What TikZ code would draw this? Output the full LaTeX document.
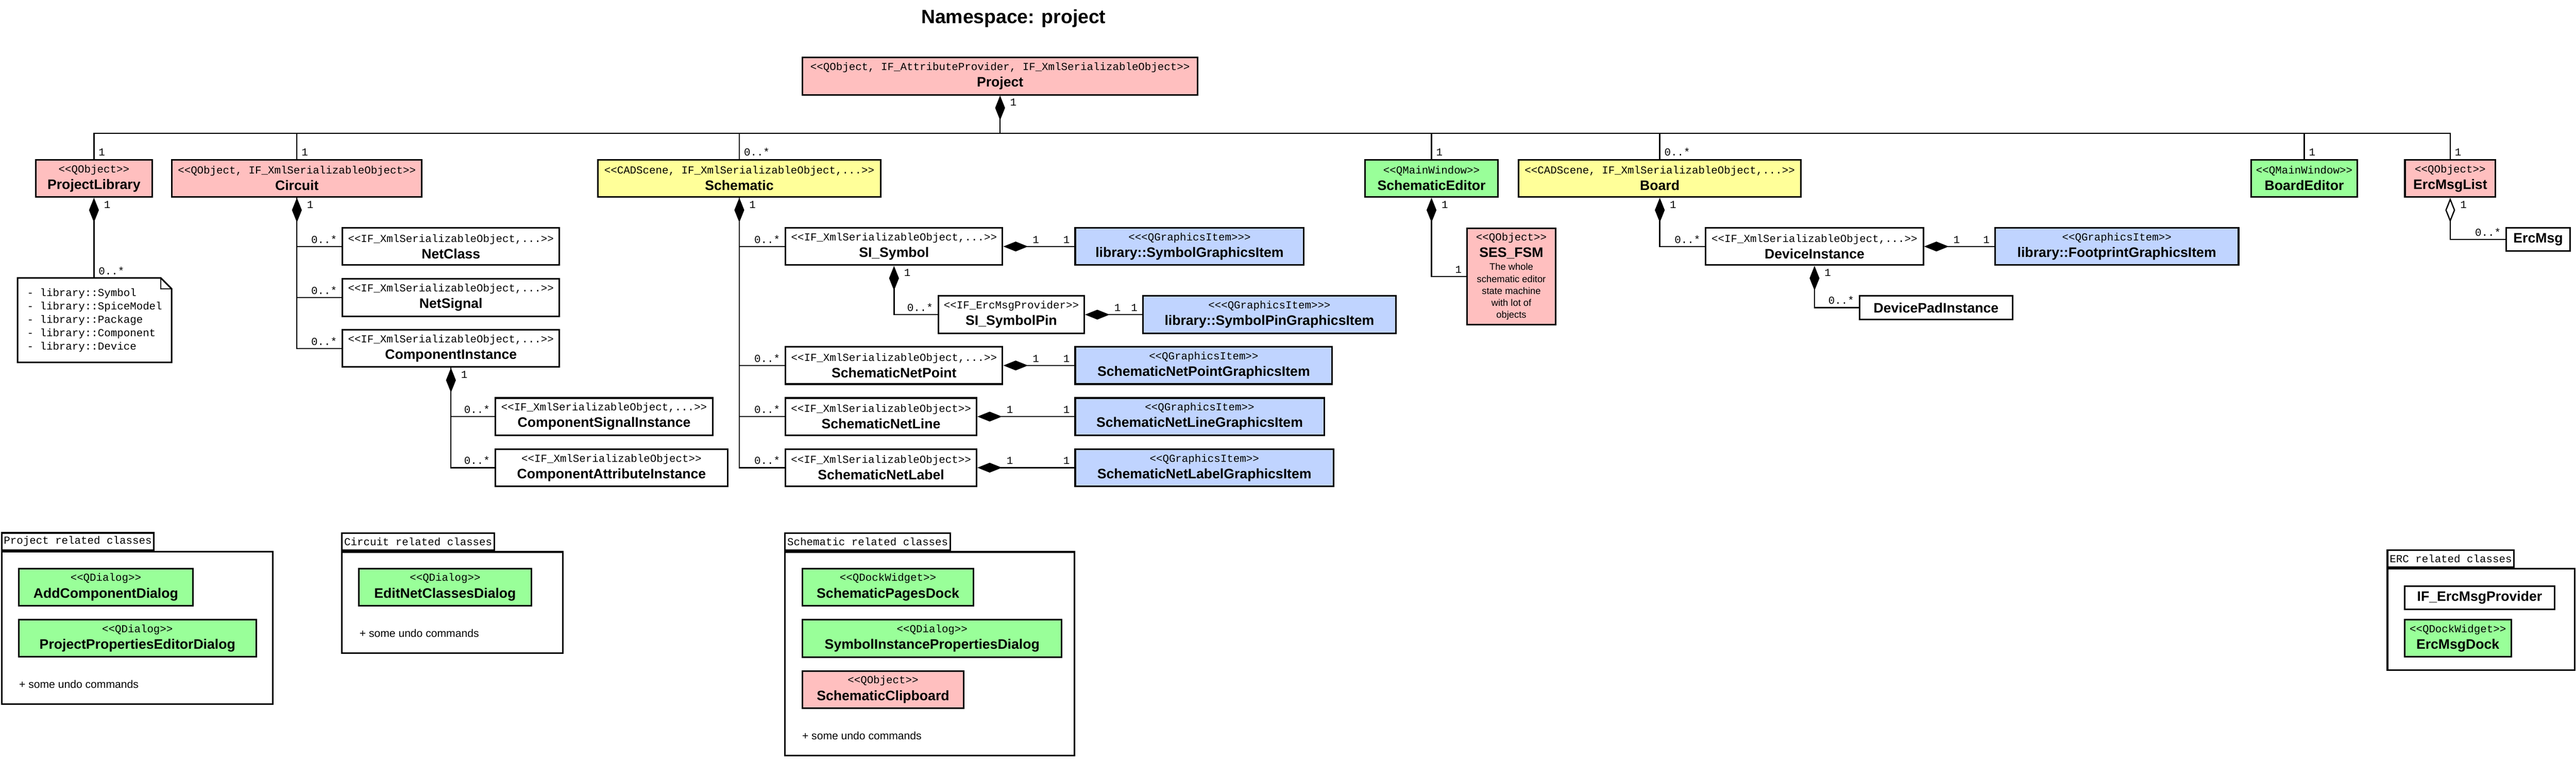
\documentclass[tikz,border=0pt]{standalone}
\usepackage{fontspec}
\setmainfont{Liberation Sans}
\newfontfamily\monofont{Liberation Mono}
\usetikzlibrary{arrows.meta,positioning}
\definecolor{clspink}{HTML}{FFBFBF}
\definecolor{clsyellow}{HTML}{FFFF99}
\definecolor{clsgreen}{HTML}{99FF99}
\definecolor{clsblue}{HTML}{C0D4FF}
\newcommand{\stereo}[1]{{\monofont\mdseries\fontsize{6.8}{8}\selectfont #1}}
\newcommand{\descfont}{\mdseries\fontsize{6}{7.6}\selectfont}
\begin{document}
\begin{tikzpicture}[cls/.style={draw,line width=1pt,align=center,inner sep=0pt,minimum height=0.83cm,font=\fontsize{8.7}{10.5}\selectfont\bfseries},
  pinkcls/.style={cls,fill=clspink},yellowcls/.style={cls,fill=clsyellow},greencls/.style={cls,fill=clsgreen},bluecls/.style={cls,fill=clsblue},whitecls/.style={cls,fill=white},
  onecls/.style={cls,fill=white,minimum height=0.52cm},
  comp/.style={{Diamond[length=5.5mm,width=2.2mm]}-,line width=0.8pt},
  aggr/.style={{Diamond[open,length=5.5mm,width=2.2mm]}-,line width=0.8pt},
  assoc/.style={line width=0.8pt},
  mult/.style={font=\monofont\fontsize{6.8}{8}\selectfont,inner xsep=0.09cm,inner ysep=0.06cm},
  notebox/.style={align=left,inner sep=0pt,font=\monofont\fontsize{6.8}{8.5}\selectfont},
  pkg/.style={draw,line width=1pt},
  pkgtab/.style={draw,line width=1pt,fill=white,font=\monofont\fontsize{6.8}{8}\selectfont,inner xsep=0.05cm,inner ysep=0pt,minimum height=0.38cm},
  undo/.style={font=\fontsize{6.9}{8}\selectfont,anchor=west,inner sep=0pt}]
\useasboundingbox (0,0) rectangle (57.44,-17);
\node[font=\fontsize{12.2}{14}\selectfont\bfseries] (Title) at (22.6,-0.415) {Namespace: project};
\node[pinkcls,minimum width=8.81cm] (Proj) at (22.30,-1.70) {\stereo{<<QObject, IF\_AttributeProvider, IF\_XmlSerializableObject>>}\\Project};
\node[pinkcls,minimum width=2.60cm] (PL) at (2.095,-3.98) {\stereo{<<QObject>>}\\ProjectLibrary};
\node[pinkcls,minimum width=5.57cm] (Circ) at (6.62,-3.98) {\stereo{<<QObject, IF\_XmlSerializableObject>>}\\Circuit};
\node[yellowcls,minimum width=6.30cm] (Schem) at (16.485,-3.98) {\stereo{<<CADScene, IF\_XmlSerializableObject,...>>}\\Schematic};
\node[greencls,minimum width=2.97cm] (SchEd) at (31.92,-3.98) {\stereo{<<QMainWindow>>}\\SchematicEditor};
\node[yellowcls,minimum width=6.29cm] (Board) at (37.01,-3.98) {\stereo{<<CADScene, IF\_XmlSerializableObject,...>>}\\Board};
\node[greencls,minimum width=2.37cm] (BoardEd) at (51.38,-3.98) {\stereo{<<QMainWindow>>}\\BoardEditor};
\node[pinkcls,minimum width=2.02cm] (ErcList) at (54.635,-3.98) {\stereo{<<QObject>>}\\ErcMsgList};
\node[notebox,minimum width=3.42cm,minimum height=1.87cm] (Note) at (2.11,-7.145) {- library::Symbol\\- library::SpiceModel\\- library::Package\\- library::Component\\- library::Device};
\draw[line width=1pt] (Note.north west) -- ([xshift=-0.24cm]Note.north east) -- ([yshift=-0.24cm]Note.north east) -- (Note.south east) -- (Note.south west) -- cycle;
\draw[line width=0.8pt] ([xshift=-0.24cm]Note.north east) |- ([yshift=-0.24cm]Note.north east);
\node[whitecls,minimum width=4.84cm] (NetClass) at (10.055,-5.50) {\stereo{<<IF\_XmlSerializableObject,...>>}\\NetClass};
\node[whitecls,minimum width=4.84cm] (NetSig) at (10.055,-6.64) {\stereo{<<IF\_XmlSerializableObject,...>>}\\NetSignal};
\node[whitecls,minimum width=4.84cm] (CompInst) at (10.055,-7.775) {\stereo{<<IF\_XmlSerializableObject,...>>}\\ComponentInstance};
\node[whitecls,minimum width=4.85cm] (CompSig) at (13.47,-9.295) {\stereo{<<IF\_XmlSerializableObject,...>>}\\ComponentSignalInstance};
\node[whitecls,minimum width=5.18cm] (CompAttr) at (13.635,-10.435) {\stereo{<<IF\_XmlSerializableObject>>}\\ComponentAttributeInstance};
\node[whitecls,minimum width=4.84cm] (SISym) at (19.935,-5.50) {\stereo{<<IF\_XmlSerializableObject,...>>}\\SI\_Symbol};
\node[bluecls,minimum width=5.10cm] (SymGI) at (26.525,-5.50) {\stereo{<<<QGraphicsItem>>>}\\library::SymbolGraphicsItem};
\node[whitecls,minimum width=3.25cm] (SIPin) at (22.55,-7.02) {\stereo{<<IF\_ErcMsgProvider>>}\\SI\_SymbolPin};
\node[bluecls,minimum width=5.64cm] (PinGI) at (28.305,-7.02) {\stereo{<<<QGraphicsItem>>>}\\library::SymbolPinGraphicsItem};
\node[whitecls,minimum width=4.84cm] (NetPt) at (19.935,-8.155) {\stereo{<<IF\_XmlSerializableObject,...>>}\\SchematicNetPoint};
\node[bluecls,minimum width=5.73cm] (NetPtGI) at (26.84,-8.155) {\stereo{<<QGraphicsItem>>}\\SchematicNetPointGraphicsItem};
\node[whitecls,minimum width=4.26cm] (NetLine) at (19.645,-9.295) {\stereo{<<IF\_XmlSerializableObject>>}\\SchematicNetLine};
\node[bluecls,minimum width=5.55cm] (NetLineGI) at (26.75,-9.295) {\stereo{<<QGraphicsItem>>}\\SchematicNetLineGraphicsItem};
\node[whitecls,minimum width=4.26cm] (NetLabel) at (19.645,-10.435) {\stereo{<<IF\_XmlSerializableObject>>}\\SchematicNetLabel};
\node[bluecls,minimum width=5.76cm] (NetLabelGI) at (26.855,-10.435) {\stereo{<<QGraphicsItem>>}\\SchematicNetLabelGraphicsItem};
\node[pinkcls,minimum width=1.97cm,minimum height=2.15cm] (SesFsm) at (33.70,-6.17) {\stereo{<<QObject>>}\\SES\_FSM\\[-2.3pt]{\descfont The whole}\\[-2.9pt]{\descfont schematic editor}\\[-2.9pt]{\descfont state machine}\\[-2.9pt]{\descfont with lot of}\\[-2.9pt]{\descfont objects}};
\node[whitecls,minimum width=4.85cm] (DevInst) at (40.46,-5.50) {\stereo{<<IF\_XmlSerializableObject,...>>}\\DeviceInstance};
\node[bluecls,minimum width=5.43cm] (Foot) at (47.20,-5.50) {\stereo{<<QGraphicsItem>>}\\library::FootprintGraphicsItem};
\node[onecls,minimum width=3.41cm] (DevPad) at (43.17,-6.865) {DevicePadInstance};
\node[onecls,minimum width=1.42cm] (ErcMsg) at (56.595,-5.34) {ErcMsg};
% composition from the project
\coordinate (Bus) at ([yshift=-0.84cm]Proj.south);
\draw[comp] (Proj.south) -- (Bus) node[mult,at start,anchor=north west,xshift=1.2mm]{1};
\draw[assoc] (Bus) -| (PL.north) node[mult,at end,anchor=south west]{1};
\draw[assoc] (Bus) -| (Circ.north) node[mult,at end,anchor=south west]{1};
\draw[assoc] (Bus) -| (Schem.north) node[mult,at end,anchor=south west]{0..*};
\draw[assoc] (Bus) -| (SchEd.north) node[mult,at end,anchor=south west]{1};
\draw[assoc] (Bus) -| (Board.north) node[mult,at end,anchor=south west]{0..*};
\draw[assoc] (Bus) -| (BoardEd.north) node[mult,at end,anchor=south west]{1};
\draw[assoc] (Bus) -| (ErcList.north) node[mult,at end,anchor=south west]{1};
\draw[comp] (PL.south) -- (PL.south |- Note.north) node[mult,at start,anchor=north west,xshift=1.2mm]{1} node[mult,at end,anchor=south west]{0..*};
\draw[comp] (Circ.south) |- (NetClass.west) node[mult,at start,anchor=north west,xshift=1.2mm]{1} node[mult,at end,anchor=south east]{0..*};
\draw[assoc] (Circ.south) |- (NetSig.west) node[mult,at end,anchor=south east]{0..*};
\draw[assoc] (Circ.south) |- (CompInst.west) node[mult,at end,anchor=south east]{0..*};
\draw[comp] (CompInst.south) |- (CompSig.west) node[mult,at start,anchor=north west,xshift=1.2mm]{1} node[mult,at end,anchor=south east]{0..*};
\draw[assoc] (CompInst.south) |- (CompAttr.west) node[mult,at end,anchor=south east]{0..*};
\draw[comp] (Schem.south) |- (SISym.west) node[mult,at start,anchor=north west,xshift=1.2mm]{1} node[mult,at end,anchor=south east]{0..*};
\draw[assoc] (Schem.south) |- (NetPt.west) node[mult,at end,anchor=south east]{0..*};
\draw[assoc] (Schem.south) |- (NetLine.west) node[mult,at end,anchor=south east]{0..*};
\draw[assoc] (Schem.south) |- (NetLabel.west) node[mult,at end,anchor=south east]{0..*};
\draw[comp] (SISym.south) |- (SIPin.west) node[mult,at start,anchor=north west,xshift=1.2mm]{1} node[mult,at end,anchor=south east]{0..*};
\draw[comp] (SISym.east) -- (SymGI.west) node[mult,at start,anchor=south west,xshift=5.5mm]{1} node[mult,at end,anchor=south east]{1};
\draw[comp] (SIPin.east) -- (PinGI.west) node[mult,at start,anchor=south west,xshift=5.5mm]{1} node[mult,at end,anchor=south east]{1};
\draw[comp] (NetPt.east) -- (NetPtGI.west) node[mult,at start,anchor=south west,xshift=5.5mm]{1} node[mult,at end,anchor=south east]{1};
\draw[comp] (NetLine.east) -- (NetLineGI.west) node[mult,at start,anchor=south west,xshift=5.5mm]{1} node[mult,at end,anchor=south east]{1};
\draw[comp] (NetLabel.east) -- (NetLabelGI.west) node[mult,at start,anchor=south west,xshift=5.5mm]{1} node[mult,at end,anchor=south east]{1};
\draw[comp] (SchEd.south) |- (SesFsm.west) node[mult,at start,anchor=north west,xshift=1.2mm]{1} node[mult,at end,anchor=south east]{1};
\draw[comp] (Board.south) |- (DevInst.west) node[mult,at start,anchor=north west,xshift=1.2mm]{1} node[mult,at end,anchor=south east]{0..*};
\draw[comp] (DevInst.east) -- (Foot.west) node[mult,at start,anchor=south west,xshift=5.5mm]{1} node[mult,at end,anchor=south east]{1};
\draw[comp] (DevInst.south) |- (DevPad.west) node[mult,at start,anchor=north west,xshift=1.2mm]{1} node[mult,at end,anchor=south east]{0..*};
\draw[aggr] (ErcList.south) |- (ErcMsg.west) node[mult,at start,anchor=north west,xshift=1.2mm]{1} node[mult,at end,anchor=south east]{0..*};
% packages
\node[pkg,minimum width=6.05cm,minimum height=3.41cm] (PkgProj) at (3.06,-14.01) {};
\node[pkgtab,anchor=south west] (PkgProjTab) at (PkgProj.north west) {Project related classes};
\node[greencls,minimum width=3.89cm] (AddComp) at (2.36,-13.10) {\stereo{<<QDialog>>}\\AddComponentDialog};
\node[greencls,minimum width=5.30cm] (ProjProp) at (3.065,-14.24) {\stereo{<<QDialog>>}\\ProjectPropertiesEditorDialog};
\node[undo] (ProjUndo) at (0.42,-15.27) {+ some undo commands};
\node[pkg,minimum width=4.93cm,minimum height=2.26cm] (PkgCirc) at (10.09,-13.445) {};
\node[pkgtab,anchor=south west] (PkgCircTab) at (PkgCirc.north west) {Circuit related classes};
\node[greencls,minimum width=3.84cm] (EditNet) at (9.925,-13.10) {\stereo{<<QDialog>>}\\EditNetClassesDialog};
\node[undo] (CircUndo) at (8.01,-14.13) {+ some undo commands};
\node[pkg,minimum width=6.45cm,minimum height=4.54cm] (PkgSchem) at (20.73,-14.585) {};
\node[pkgtab,anchor=south west] (PkgSchemTab) at (PkgSchem.north west) {Schematic related classes};
\node[greencls,minimum width=3.81cm] (PagesDock) at (19.80,-13.10) {\stereo{<<QDockWidget>>}\\SchematicPagesDock};
\node[greencls,minimum width=5.78cm] (SymInstDlg) at (20.785,-14.245) {\stereo{<<QDialog>>}\\SymbolInstancePropertiesDialog};
\node[pinkcls,minimum width=3.59cm] (Clipboard) at (19.69,-15.385) {\stereo{<<QObject>>}\\SchematicClipboard};
\node[undo] (SchemUndo) at (17.88,-16.41) {+ some undo commands};
\node[pkg,minimum width=4.18cm,minimum height=2.27cm] (PkgErc) at (55.325,-13.82) {};
\node[pkgtab,anchor=south west] (PkgErcTab) at (PkgErc.north west) {ERC related classes};
\node[onecls,minimum width=3.35cm] (ErcProv) at (55.29,-13.335) {IF\_ErcMsgProvider};
\node[greencls,minimum width=2.38cm] (ErcDock) at (54.805,-14.24) {\stereo{<<QDockWidget>>}\\ErcMsgDock};
\end{tikzpicture}
\end{document}
